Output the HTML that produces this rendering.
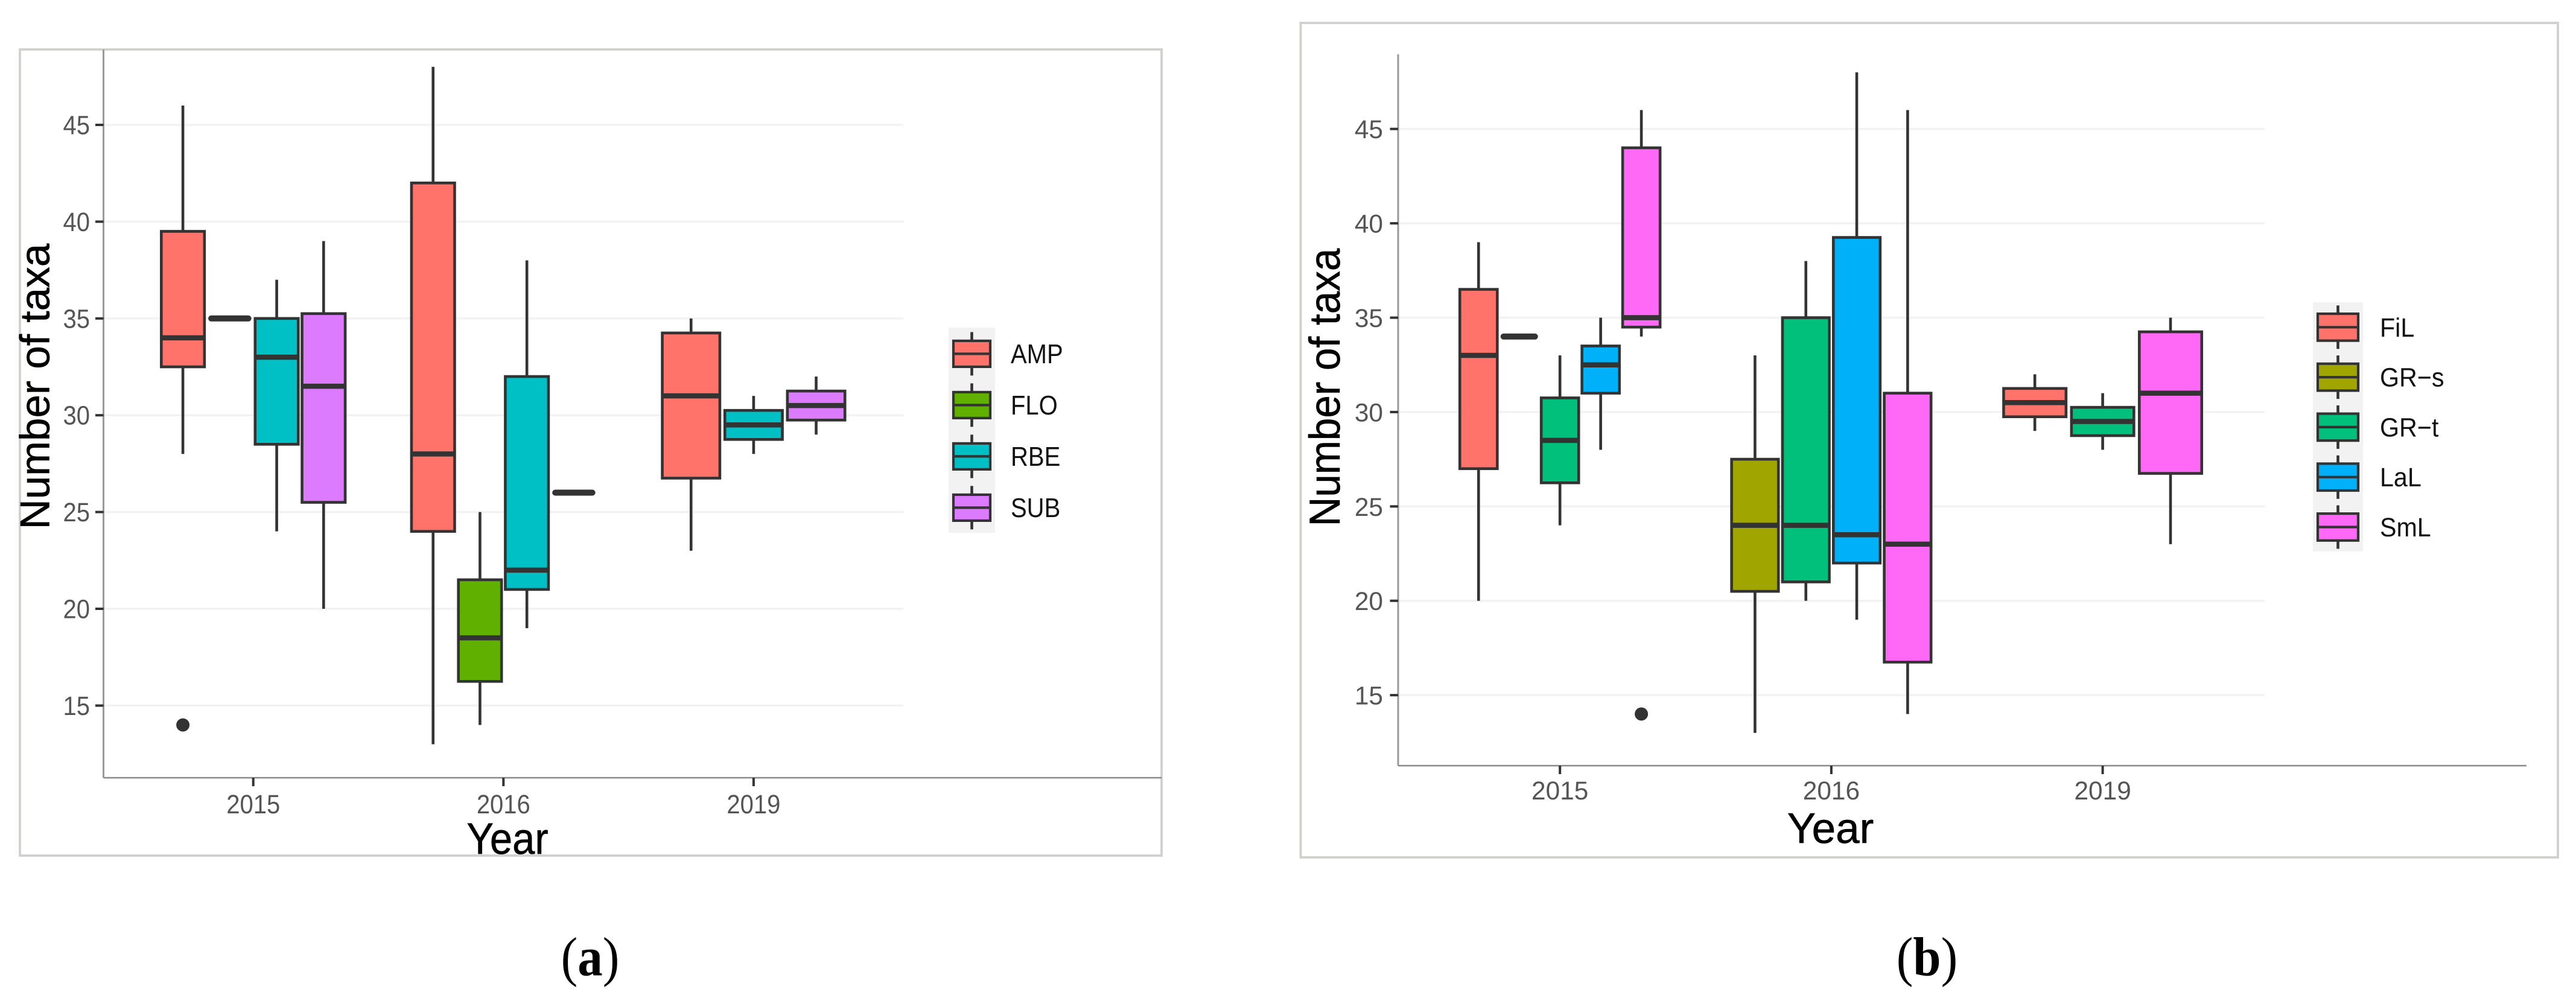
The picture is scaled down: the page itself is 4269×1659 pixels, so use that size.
<!DOCTYPE html>
<html lang="en">
<head>
<meta charset="utf-8">
<title>Number of taxa by year</title>
<style>
html,body{margin:0;padding:0;background:#fff;}
svg{display:block;font-family:"Liberation Sans",Arial,sans-serif;text-rendering:geometricPrecision;}
</style>
</head>
<body>
<svg id="figure" xmlns="http://www.w3.org/2000/svg" width="4269" height="1659" viewBox="0 0 4269 1659">
  <rect x="0" y="0" width="4269" height="1659" fill="#ffffff"/>
  <g id="panel-a">
    <rect x="33" y="82" width="1892" height="1336" fill="#ffffff" stroke="#d0d0ce" stroke-width="3.8"/>
    <g id="plot-a"></g>
    <text transform="translate(81.5,640.5) rotate(-90) scale(1.004,1)" font-size="69" text-anchor="middle" fill="#000" stroke="#000" stroke-width="0.6">Number of taxa</text>
    <text transform="translate(841,1415) scale(0.97,1.06)" font-size="69" text-anchor="middle" fill="#000" stroke="#000" stroke-width="0.6">Year</text>
  </g>
  <g id="panel-b">
    <rect x="2155.5" y="38" width="2083.5" height="1383" fill="#ffffff" stroke="#d0d0ce" stroke-width="3.8"/>
    <g id="plot-b"></g>
    <text transform="translate(2220,642) rotate(-90) scale(0.977,1.04)" font-size="69" text-anchor="middle" fill="#000" stroke="#000" stroke-width="0.6">Number of taxa</text>
    <text transform="translate(3033.5,1397) scale(1.03,1.03)" font-size="69" text-anchor="middle" fill="#000" stroke="#000" stroke-width="0.6">Year</text>
  </g>
  <text transform="translate(978,1616.5) scale(1,1.1)" font-family="'Liberation Serif',serif" font-size="83" text-anchor="middle" fill="#000">(<tspan font-weight="bold">a</tspan>)</text>
  <text transform="translate(3193.5,1616.5) scale(1,1.1)" font-family="'Liberation Serif',serif" font-size="83" text-anchor="middle" fill="#000">(<tspan font-weight="bold">b</tspan>)</text>
</svg>
<script>
// ---- Shared ticks ----
const yearLabels = ['2015', '2016', '2019'];
const yTickValues = [15, 20, 25, 30, 35, 40, 45];

// ---- Panel A data: each entry is [low, q1, median, q3, high]; null = no box ----
const namesA = ['AMP', 'FLO', 'RBE', 'SUB'];
const coloursA = ['#FF736A', '#60B000', '#00C0C6', '#DD7BFF'];
const ampA = [[28, 32.5, 34, 39.5, 46], [13, 24, 28, 42, 48], [23, 26.75, 31, 34.25, 35]];
const floA = [[35, 35, 35, 35, 35], [14, 16.25, 18.5, 21.5, 25], null];
const rbeA = [[24, 28.5, 33, 35, 37], [19, 21, 22, 32, 38], [28, 28.75, 29.5, 30.25, 31]];
const subA = [[20, 25.5, 31.5, 35.25, 39], [26, 26, 26, 26, 26], [29, 29.75, 30.5, 31.25, 32]];
const outlierYearsA = [0];
const outlierSeriesA = [0];
const outlierValuesA = [14];

// ---- Panel B data ----
const namesB = ['FiL', 'GR\u2212s', 'GR\u2212t', 'LaL', 'SmL'];
const coloursB = ['#FF736A', '#A0A500', '#00C07B', '#00B0F8', '#FF69F5'];
const filB = [[20, 27, 33, 36.5, 39], null, [29, 29.75, 30.5, 31.25, 32]];
const grsB = [[34, 34, 34, 34, 34], [13, 20.5, 24, 27.5, 33], null];
const grtB = [[24, 26.25, 28.5, 30.75, 33], [20, 21, 24, 35, 38], [28, 28.75, 29.5, 30.25, 31]];
const lalB = [[28, 31, 32.5, 33.5, 35], [19, 22, 23.5, 39.25, 48], null];
const smlB = [[34, 34.5, 35, 44, 46], [14, 16.75, 23, 31, 46], [23, 26.75, 31, 34.25, 35]];
const outlierYearsB = [0];
const outlierSeriesB = [4];
const outlierValuesB = [14];

const SVG_NS = 'http://www.w3.org/2000/svg';
const INK = '#333333';

function make(tag, attrs, parent) {
  const node = document.createElementNS(SVG_NS, tag);
  for (const k in attrs) node.setAttribute(k, attrs[k]);
  parent.appendChild(node);
  return node;
}

function drawPanel(host, geo, names, colours, series, outYears, outSeries, outValues) {
  // axis functions
  const yScale = v => geo.y45 + (45 - v) * geo.unit;
  const xBand = i => geo.x0 + i * geo.band;
  const present = yi => series.map((s, si) => s[yi] ? si : -1).filter(si => si >= 0);
  const slotStep = yi => geo.band * 0.75 / present(yi).length;
  const xSlot = (yi, si) => {
    const p = present(yi);
    return xBand(yi) + (p.indexOf(si) - (p.length - 1) / 2) * slotStep(yi);
  };

  // gridlines
  yTickValues.forEach(v => {
    const grid = make('line', {x1: geo.axisX, x2: geo.gridEnd, y1: yScale(v), y2: yScale(v), stroke: '#f2f2f2', 'stroke-width': 3.5}, host);
    
    
  });

  // axis lines
  const yAxis = make('line', {x1: geo.axisX, x2: geo.axisX, y1: geo.axisTop, y2: geo.axisY, stroke: '#9a9a9a', 'stroke-width': 3}, host);
  
  
  const xAxis = make('line', {x1: geo.axisX, x2: geo.axisEnd, y1: geo.axisY, y2: geo.axisY, stroke: '#8a8a8a', 'stroke-width': 2.5}, host);
  
  

  // y ticks
  yTickValues.forEach(v => {
    const tick = make('line', {x1: geo.axisX - 13.5, x2: geo.axisX, y1: yScale(v), y2: yScale(v), stroke: INK, 'stroke-width': 4}, host);
    
    
    const lab = make('text', {
      transform: 'translate(' + geo.yLabelX + ',' + (yScale(v) + 15.5) + ') scale(' + geo.tickSx + ',' + geo.tickSy + ')',
      'font-size': 40, 'text-anchor': 'end', fill: '#555555'
    }, host);
    lab.textContent = String(v);
    
    
  });

  // x ticks
  yearLabels.forEach((label, i) => {
    const tick = make('line', {x1: xBand(i), x2: xBand(i), y1: geo.axisY, y2: geo.axisY + 14, stroke: INK, 'stroke-width': 4}, host);
    
    
    const lab = make('text', {
      transform: 'translate(' + xBand(i) + ',' + (geo.axisY + geo.xLabelDrop) + ') scale(' + geo.tickSx + ',' + geo.tickSy + ')',
      'font-size': 40, 'text-anchor': 'middle', fill: '#555555'
    }, host);
    lab.textContent = label;
    
    
  });

  // boxes
  series.forEach((s, si) => {
    s.forEach((stats, yi) => {
      if (!stats) return;
      const cx = xSlot(yi, si);
      const w = slotStep(yi) * 0.92;
      const flat = stats[1] === stats[3];
      const g = make('g', {}, host);
      
      
      if (!flat) {
        const wLow = make('line', {x1: cx, x2: cx, y1: yScale(stats[1]), y2: yScale(stats[0]), stroke: INK, 'stroke-width': 4.6}, g);
        
        
        const wHigh = make('line', {x1: cx, x2: cx, y1: yScale(stats[3]), y2: yScale(stats[4]), stroke: INK, 'stroke-width': 4.6}, g);
        
        
        const body = make('rect', {x: cx - w / 2, y: yScale(stats[3]), width: w, height: yScale(stats[1]) - yScale(stats[3]), fill: colours[si], stroke: INK, 'stroke-width': 4.6}, g);
        
        
      }
      const med = make('line', {
        x1: cx - w / 2 + (flat ? 5 : 0), x2: cx + w / 2 - (flat ? 5 : 0),
        y1: yScale(stats[2]), y2: yScale(stats[2]),
        stroke: INK, 'stroke-width': flat ? 10 : 8.5, 'stroke-linecap': flat ? 'round' : 'butt'
      }, g);
      
      
    });
  });

  // outliers
  outValues.forEach((v, i) => {
    const dot = make('circle', {cx: xSlot(outYears[i], outSeries[i]), cy: yScale(v), r: 11, fill: INK}, host);
    
    
  });

  // legend
  const legend = make('g', {}, host);
  
  
  const bg = make('rect', {x: geo.legX, y: geo.legY, width: geo.legW, height: geo.legH, fill: '#f2f2f2'}, legend);
  
  
  names.forEach((name, i) => {
    const cy = geo.legFirst + i * geo.legStep;
    const cx = geo.legX + geo.legW / 2;
    const entry = make('g', {}, legend);
    
    
    const whisk = make('line', {x1: cx, x2: cx, y1: cy - geo.keyWhisk, y2: cy + geo.keyWhisk, stroke: INK, 'stroke-width': 4.6}, entry);
    
    
    const swatch = make('rect', {x: cx - geo.keyW / 2, y: cy - geo.keyH / 2, width: geo.keyW, height: geo.keyH, fill: colours[i], stroke: INK, 'stroke-width': 4.2}, entry);
    
    
    const mid = make('line', {x1: cx - geo.keyW / 2, x2: cx + geo.keyW / 2, y1: cy, y2: cy, stroke: INK, 'stroke-width': 4.2}, entry);
    
    
    const text = make('text', {
      transform: 'translate(' + geo.legTextX + ',' + (cy + 15.5) + ') scale(' + geo.legSx + ',' + geo.legSy + ')',
      'font-size': 40, fill: '#111111'
    }, entry);
    text.textContent = name;
    
    
  });
}

drawPanel(document.getElementById('plot-a'), {
  y45: 207, unit: 32.08, x0: 419.7, band: 414.6,
  axisX: 171.5, axisTop: 82, axisY: 1289, axisEnd: 1925, gridEnd: 1497,
  yLabelX: 149, xLabelDrop: 59, tickSx: 1, tickSy: 1.1,
  legX: 1572, legY: 543, legW: 77, legH: 340, legFirst: 586.4, legStep: 85,
  keyW: 61, keyH: 43, keyWhisk: 36, legTextX: 1675, legSx: 1, legSy: 1.125
}, namesA, coloursA, [ampA, floA, rbeA, subA], outlierYearsA, outlierSeriesA, outlierValuesA);

drawPanel(document.getElementById('plot-b'), {
  y45: 213.7, unit: 31.28, x0: 2585.2, band: 449.7,
  axisX: 2317, axisTop: 90, axisY: 1269, axisEnd: 4187, gridEnd: 3753,
  yLabelX: 2292, xLabelDrop: 56, tickSx: 1.06, tickSy: 1.07,
  legX: 3833, legY: 501, legW: 83, legH: 413, legFirst: 542.3, legStep: 82.8,
  keyW: 67, keyH: 44.6, keyWhisk: 36, legTextX: 3944, legSx: 1.03, legSy: 1.1
}, namesB, coloursB, [filB, grsB, grtB, lalB, smlB], outlierYearsB, outlierSeriesB, outlierValuesB);
</script>
</body>
</html>
